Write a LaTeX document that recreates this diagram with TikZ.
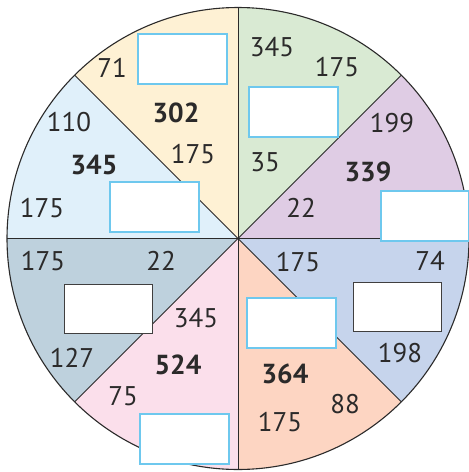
\documentclass[tikz,border=0pt]{standalone}
\usepackage{fontspec}
\setmainfont{PT Sans}
\usetikzlibrary{calc}
\definecolor{cyel}{HTML}{FEF1D4}
\definecolor{clbl}{HTML}{E0F0FA}
\definecolor{cgrn}{HTML}{D9EAD3}
\definecolor{cpur}{HTML}{DFCCE4}
\definecolor{clav}{HTML}{C6D4EC}
\definecolor{cpea}{HTML}{FDD5C2}
\definecolor{cpnk}{HTML}{FBDFEB}
\definecolor{cgbl}{HTML}{BED1DD}
\definecolor{cbox}{HTML}{6EC8EE}
\definecolor{ctxt}{HTML}{2B2A2A}
\definecolor{cline}{HTML}{2B2A2A}
\begin{document}
\begin{tikzpicture}[x=1pt,y=-1pt,
  num/.style={font=\fontsize{27}{30}\selectfont, text=ctxt, inner sep=0pt},
  big/.style={font=\fontsize{27.5}{30}\selectfont\bfseries, text=ctxt, inner sep=0pt},
  bluebox/.style={draw=cbox, line width=2pt, fill=white, minimum width=89pt, minimum height=50pt, inner sep=0pt},
  darkbox/.style={draw=cline!90, line width=0.9pt, fill=white, minimum width=88pt, minimum height=49pt, inner sep=0pt},
  radial/.style={draw=cline, line width=1pt}]
\useasboundingbox (0,0) rectangle (469,472);
\def\R{231}
\coordinate (O) at (238,238.5);
% sectors
\fill[cpur] (O) -- ++(-45:\R) arc (-45:0:\R) -- cycle;
\fill[cgrn] (O) -- ++(-90:\R) arc (-90:-45:\R) -- cycle;
\fill[cyel] (O) -- ++(-135:\R) arc (-135:-90:\R) -- cycle;
\fill[clbl] (O) -- ++(-180:\R) arc (-180:-135:\R) -- cycle;
\fill[cgbl] (O) -- ++(135:\R) arc (135:180:\R) -- cycle;
\fill[cpnk] (O) -- ++(90:\R) arc (90:135:\R) -- cycle;
\fill[cpea] (O) -- ++(45:\R) arc (45:90:\R) -- cycle;
\fill[clav] (O) -- ++(0:\R) arc (0:45:\R) -- cycle;
% radial lines
\foreach \a in {0,45,...,315} {
  \coordinate (p\a) at ($(O)+(\a:\R)$);
}
\foreach \a in {0,45,...,315} {
  \draw[radial] (O) -- (p\a);
}
\draw[cline, line width=1.1pt] (O) circle (\R);
% boxes
\node[bluebox] (b1) at (182,58.5) {};
\node[bluebox] (b2) at (154,207) {};
\node[bluebox] (b3) at (293.5,112) {};
\node[bluebox, minimum width=88pt] (b4) at (425,216) {};
\node[darkbox] (b5) at (108,309) {};
\node[bluebox] (b6) at (184,438.5) {};
\node[darkbox] (b7) at (397.5,306.5) {};
\node[bluebox] (b8) at (291,322.5) {};
% yellow
\node[num] (t1) at (112,68) {71};
\node[big] (t2) at (176,113) {302};
\node[num] (t3) at (193,154) {175};
% light blue
\node[num] (t4) at (69,122) {110};
\node[big] (t5) at (94,165) {345};
\node[num] (t6) at (42,208) {175};
% green
\node[num] (t7) at (272,47) {345};
\node[num] (t8) at (337,67) {175};
\node[num] (t9) at (265,162) {35};
% purple
\node[num] (t10) at (392,123) {199};
\node[big] (t11) at (368,172) {339};
\node[num] (t12) at (301,208) {22};
% gray blue
\node[num] (t13) at (43,261) {175};
\node[num] (t14) at (161,261) {22};
\node[num] (t15) at (72,358) {127};
% pink
\node[num] (t16) at (196,318) {345};
\node[big] (t17) at (178,365) {524};
\node[num] (t18) at (123,396) {75};
% lavender
\node[num] (t19) at (298,262) {175};
\node[num] (t20) at (430,261) {74};
\node[num] (t21) at (400,353) {198};
% peach
\node[big] (t22) at (285,374) {364};
\node[num] (t23) at (345,404) {88};
\node[num] (t24) at (280,422) {175};
\end{tikzpicture}
\end{document}
